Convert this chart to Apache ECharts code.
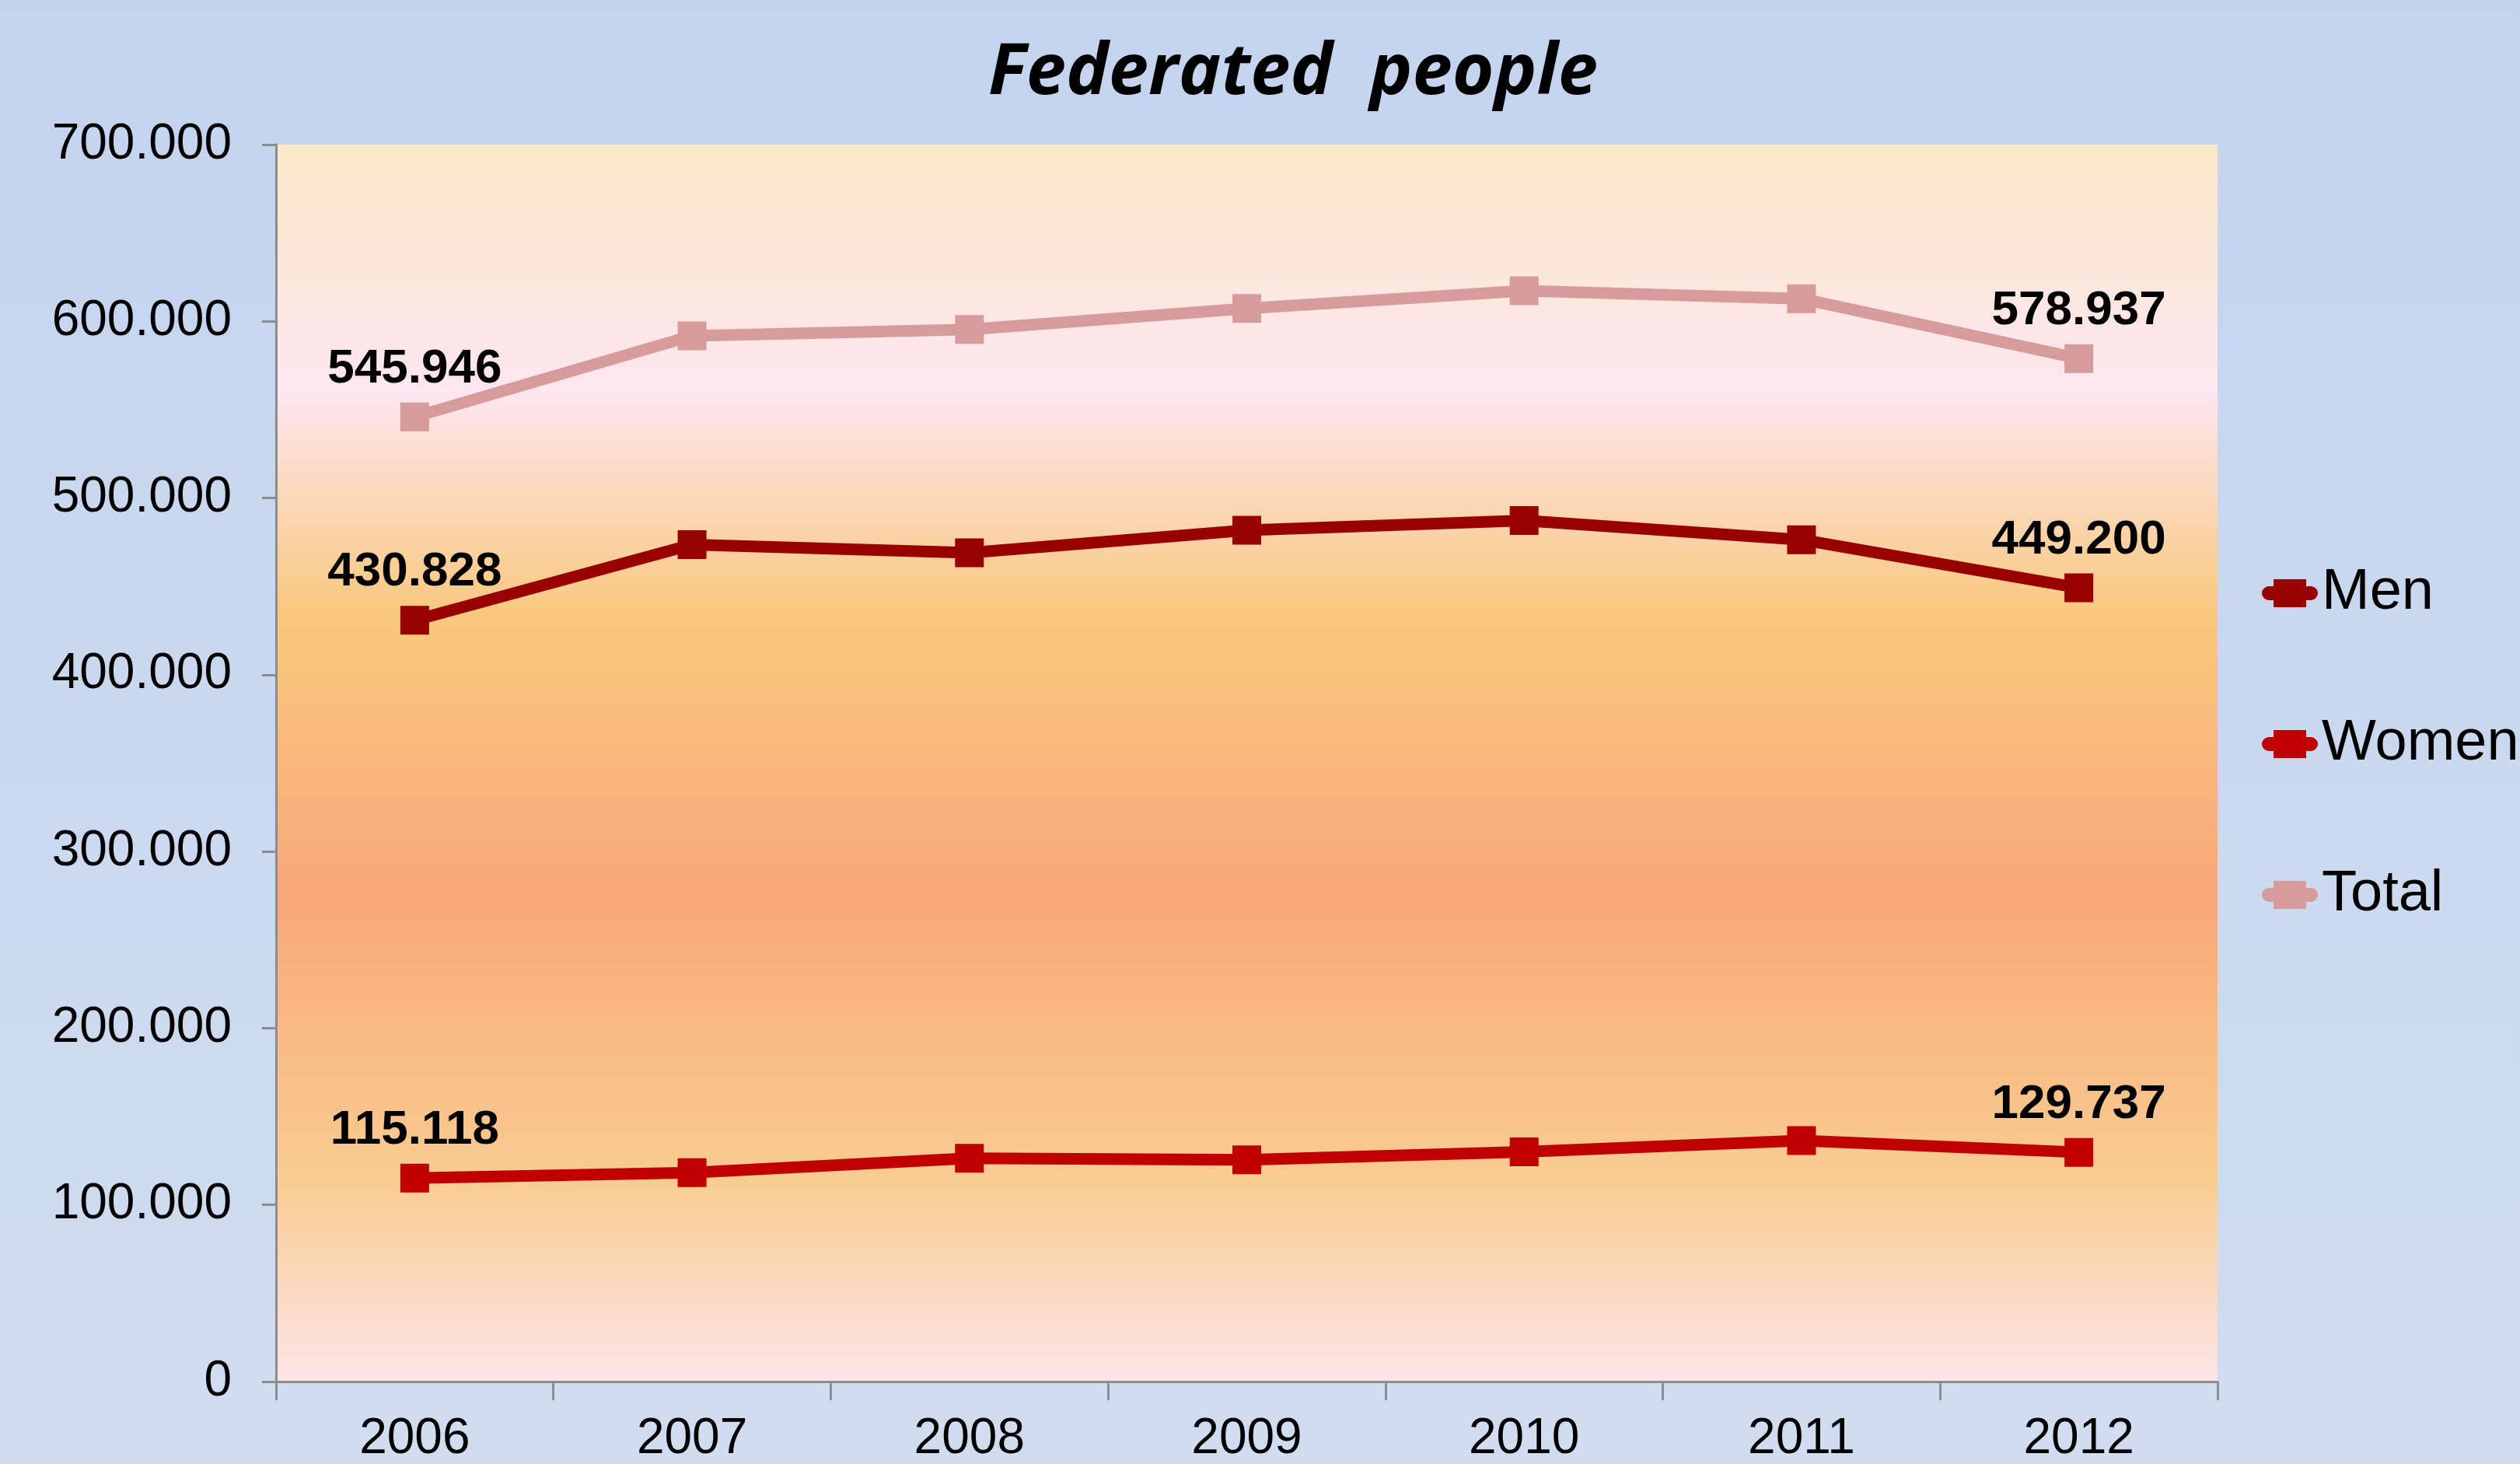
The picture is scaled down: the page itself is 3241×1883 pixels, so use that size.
<!DOCTYPE html>
<html lang="en">
<head>
<meta charset="utf-8">
<title>Federated people</title>
<script src="https://cdn.jsdelivr.net/npm/echarts@6/dist/echarts.min.js"></script>
<style>
  html, body { margin: 0; padding: 0; }
  #chart { width: 3241px; height: 1883px; }
</style>
</head>
<body>
<div id="chart"></div>
<script>
// data
var years = ['2006', '2007', '2008', '2009', '2010', '2011', '2012'];
var men = [430828, 473600, 469000, 481800, 487300, 476400, 449200];
var women = [115118, 118200, 126400, 125500, 130000, 136400, 129737];
var total = [545946, 591800, 595400, 607300, 617300, 612800, 578937];
var seriesNames = ['Men', 'Women', 'Total'];
var seriesColors = ['#990000', '#c00000', '#d69b9b'];

// 545946 -> "545.946"
function fmt(v) {
    return String(v).replace(/\B(?=(\d{3})+(?!\d))/g, '.');
}

// only first and last point get a label
function withEndLabels(arr) {
    return arr.map(function (v, i) {
        var show = (i === 0 || i === arr.length - 1);
        return { value: v, label: { show: show } };
    });
}

// legend icon: thick round-capped line with a square on it
var legendIcon = 'path://M9,9 L63,9 A9,9 0 0 1 63,27 L9,27 A9,9 0 0 1 9,9 Z M15,0 L57,0 L57,36 L15,36 Z';

var myChart = echarts.init(document.getElementById('chart'));

var plotBg = new echarts.graphic.LinearGradient(0, 0, 0, 1, [
    { offset: 0, color: '#fbe8c8' },
    { offset: 0.2, color: '#fde6f0' },
    { offset: 0.38, color: '#f9c87e' },
    { offset: 0.61, color: '#f8a87a' },
    { offset: 0.84, color: '#f9cd92' },
    { offset: 1, color: '#fde4e8' }
]);

function makeSeries(name, data, color) {
    return {
        name: name,
        type: 'line',
        data: withEndLabels(data),
        symbol: 'rect',
        symbolSize: 37,
        lineStyle: { width: 15, color: color },
        itemStyle: { color: color },
        label: {
            position: 'top',
            distance: 12,
            formatter: function (p) { return fmt(p.value); },
            fontFamily: 'Liberation Sans',
            fontWeight: 'bold',
            fontSize: 62,
            color: '#000'
        },
        emphasis: { disabled: true },
        animation: false
    };
}

var option = {
    backgroundColor: new echarts.graphic.LinearGradient(0, 0, 0, 1, [
        { offset: 0, color: '#c4d4ee' },
        { offset: 1, color: '#d1dcf0' }
    ]),
    title: {
        text: 'Federated  people',
        left: 1658,
        textAlign: 'center',
        top: 44,
        textStyle: {
            fontFamily: 'Open Sans',
            fontStyle: 'italic',
            fontWeight: 'bold',
            fontSize: 92,
            color: '#000'
        }
    },
    color: seriesColors,
    legend: {
        data: seriesNames.map(function (n) { return { name: n, icon: legendIcon }; }),
        orient: 'vertical',
        left: 2904,
        top: 716,
        itemWidth: 72,
        itemHeight: 36,
        itemGap: 110,
        textStyle: {
            fontFamily: 'Liberation Sans',
            fontSize: 74,
            lineHeight: 84,
            color: '#000'
        }
    },
    grid: {
        left: 355,
        right: 389,
        top: 186,
        bottom: 105,
        show: true,
        borderWidth: 0,
        backgroundColor: plotBg
    },
    xAxis: {
        type: 'category',
        data: years,
        boundaryGap: true,
        axisLine: { lineStyle: { color: '#8c8c8c', width: 3 } },
        axisTick: { show: true, length: 24, lineStyle: { color: '#8c8c8c', width: 3 } },
        axisLabel: {
            margin: 42,
            fontFamily: 'Liberation Sans',
            fontSize: 64,
            color: '#000'
        },
        splitLine: { show: false }
    },
    yAxis: {
        type: 'value',
        min: 0,
        max: 700000,
        interval: 100000,
        axisLine: { show: true, lineStyle: { color: '#8c8c8c', width: 3 } },
        axisTick: { show: true, length: 18, lineStyle: { color: '#8c8c8c', width: 3 } },
        axisLabel: {
            margin: 57,
            fontFamily: 'Liberation Sans',
            fontSize: 64,
            color: '#000',
            formatter: function (v) { return fmt(v); }
        },
        splitLine: { show: false }
    },
    series: [
        makeSeries(seriesNames[0], men, seriesColors[0]),
        makeSeries(seriesNames[1], women, seriesColors[1]),
        makeSeries(seriesNames[2], total, seriesColors[2])
    ]
};

myChart.setOption(option);
</script>
</body>
</html>
